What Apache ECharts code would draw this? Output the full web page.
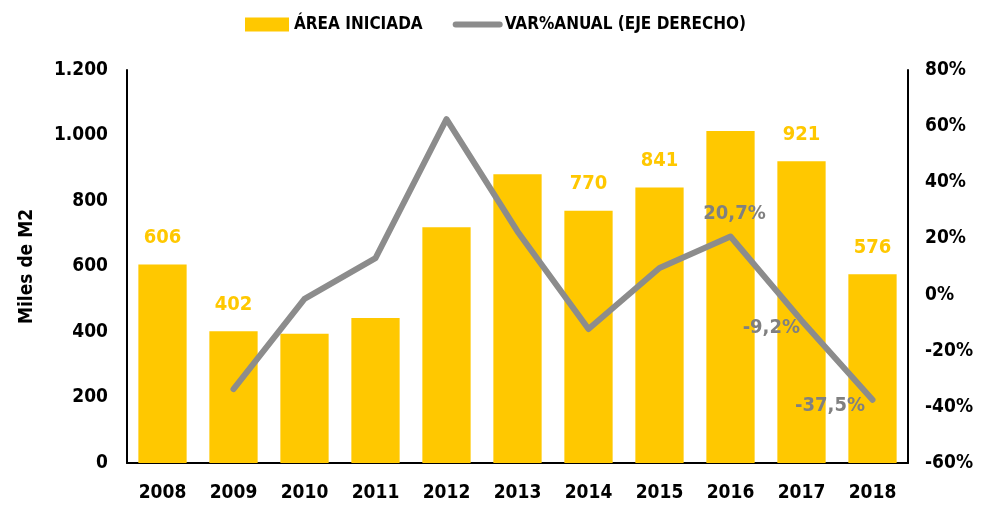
<!DOCTYPE html>
<html><head><meta charset="utf-8">
<script src="https://cdn.jsdelivr.net/npm/echarts@6/dist/echarts.min.js"></script>
<style>html,body{margin:0;padding:0;background:#fff}#c{width:985px;height:505px}</style>
</head><body><div id="c"></div>
<script>
const categories = ['2008','2009','2010','2011','2012','2013','2014','2015','2016','2017','2018'];
const areaIniciada = [606, 402, 395, 443, 720, 882, 770, 841, 1014, 921, 576];
const varAnual = [null, -33.7, -1.5, 13.0, 62.5, 22.5, -12.3, 9.5, 20.7, -9.2, -37.5];
const barLabelIdx = [0, 1, 6, 7, 9, 10];
const lineLabelIdx = [8, 9, 10];
const leftTicks = {min: 0, max: 1200, interval: 200};
const rightTicks = {min: -60, max: 80, interval: 20};

const FONT = '"DejaVu Sans Condensed", "DejaVu Sans", sans-serif';
const YEL = '#FFC800', GRY = '#8C8C8C';
const lineLabelPos = {8: {position: 'top', distance: 12, offset: [4, 0]}, 9: {position: 'left', offset: [4, 7]}, 10: {position: 'left', offset: [-2, 6]}};

const barData = areaIniciada.map((v, i) => ({
  value: v,
  label: {show: barLabelIdx.includes(i)}
}));
const lineData = varAnual.map((v, i) => ({
  value: v,
  label: lineLabelIdx.includes(i) ? Object.assign({show: true}, lineLabelPos[i]) : {show: false}
}));
const fmtNum = v => String(v).replace(/\B(?=(\d{3})+(?!\d))/g, '.');

const chart = echarts.init(document.getElementById('c'));
chart.setOption({
  animation: false,
  textStyle: {fontFamily: FONT, fontWeight: 'bold'},
  legend: {
    top: 11, left: 240,
    itemWidth: 44, itemHeight: 14, itemGap: 30,
    textStyle: {fontFamily: FONT, fontWeight: 'bold', fontSize: 17, color: '#000'},
    data: [
      {name: 'ÁREA INICIADA', icon: 'rect'},
      {name: 'VAR%ANUAL (EJE DERECHO)', itemStyle: {opacity: 0}, lineStyle: {width: 6, cap: 'round', color: GRY}}
    ]
  },
  grid: {left: 127, right: 77, top: 70, bottom: 42},
  xAxis: {
    type: 'category', data: categories,
    axisLine: {lineStyle: {color: '#000', width: 2}},
    axisTick: {show: false},
    axisLabel: {color: '#000', fontFamily: FONT, fontWeight: 'bold', fontSize: 19, margin: 21}
  },
  yAxis: [{
    type: 'value', min: leftTicks.min, max: leftTicks.max, interval: leftTicks.interval,
    name: 'Miles de M2', nameLocation: 'middle', nameGap: 90, nameRotate: 90,
    nameTextStyle: {color: '#000', fontFamily: FONT, fontWeight: 'bold', fontSize: 19},
    axisLine: {show: true, lineStyle: {color: '#000', width: 2}},
    axisTick: {show: false}, splitLine: {show: false},
    axisLabel: {color: '#000', fontFamily: FONT, fontWeight: 'bold', fontSize: 19, margin: 19, formatter: fmtNum}
  }, {
    type: 'value', min: rightTicks.min, max: rightTicks.max, interval: rightTicks.interval,
    axisLine: {show: true, lineStyle: {color: '#000', width: 2}},
    axisTick: {show: false}, splitLine: {show: false},
    axisLabel: {color: '#000', fontFamily: FONT, fontWeight: 'bold', fontSize: 19, margin: 17, formatter: '{value}%'}
  }],
  series: [{
    name: 'ÁREA INICIADA', type: 'bar', data: barData, barWidth: '68%',
    itemStyle: {color: YEL},
    label: {position: 'top', distance: 17, color: YEL, fontFamily: FONT, fontWeight: 'bold', fontSize: 20}
  }, {
    name: 'VAR%ANUAL (EJE DERECHO)', type: 'line', yAxisIndex: 1, data: lineData,
    symbol: 'circle', symbolSize: 1, showSymbol: true, connectNulls: false,
    lineStyle: {color: GRY, width: 6, cap: 'round', join: 'round'},
    itemStyle: {color: GRY},
    label: {color: '#808080', fontFamily: FONT, fontWeight: 'bold', fontSize: 20,
      formatter: p => String(p.value).replace('.', ',') + '%'}
  }]
});
</script></body></html>
